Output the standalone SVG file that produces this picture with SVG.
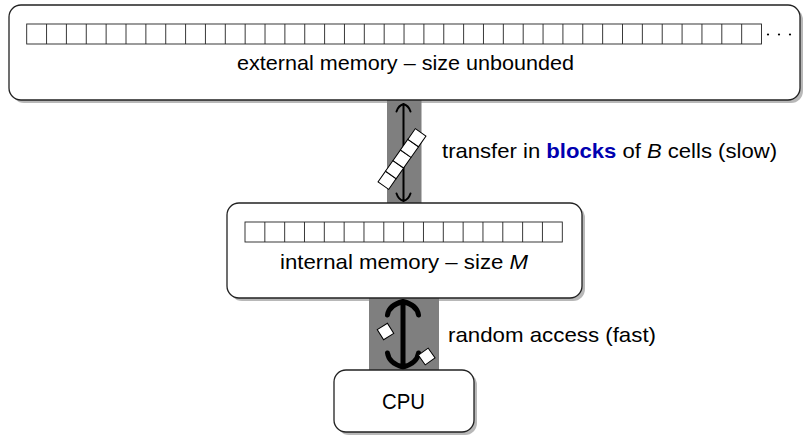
<svg xmlns="http://www.w3.org/2000/svg" width="811" height="443" viewBox="0 0 811 443">
<style>
.shadow{fill:#b8b8b8}
.box{fill:#fff;stroke:#222;stroke-width:1.3}
.cells{fill:#fff;stroke:#222;stroke-width:0.9}
.cl{fill:none;stroke:#222;stroke-width:0.9}
.band{fill:#7f7f7f}
.t{font-family:"Liberation Sans","DejaVu Sans",Arial,sans-serif;font-size:21px;fill:#000}
.arr{fill:none;stroke:#000;stroke-linecap:round;stroke-linejoin:round}
.blk{fill:#fff;stroke:#000;stroke-width:1}
</style>
<rect width="811" height="443" fill="#fff"/>
<g id="shadows">
<rect class="shadow" x="12" y="8" width="791" height="95" rx="12"/>
<rect class="shadow" x="230" y="206" width="355" height="95" rx="12"/>
<rect class="shadow" x="337" y="373" width="140" height="62" rx="12"/>
</g>
<g id="connectors">
<rect class="band" x="387" y="100" width="34.5" height="105"/>
<rect class="band" x="369" y="297" width="70" height="74"/>
<path class="arr" stroke-width="2" d="M403.5,104 V201 M396.5,111.5 Q398.5,105.5 403.5,104 Q408.5,105.5 410.5,111.5 M396.5,193.5 Q398.5,199.5 403.5,201 Q408.5,199.5 410.5,193.5"/>
<g transform="rotate(-55 402 159)">
<rect class="blk" x="369.5" y="152.5" width="13" height="13"/>
<rect class="blk" x="382.5" y="152.5" width="13" height="13"/>
<rect class="blk" x="395.5" y="152.5" width="13" height="13"/>
<rect class="blk" x="408.5" y="152.5" width="13" height="13"/>
<rect class="blk" x="421.5" y="152.5" width="13" height="13"/>
</g>
<path class="arr" stroke-width="5" d="M403,302 V366 M387.5,315 Q389,305 403,301.5 Q417,305 418.5,315 M387.5,353 Q389,363.5 403,367 Q417,363.5 418.5,353"/>
<rect class="blk" x="379.5" y="325.5" width="12" height="12" transform="rotate(-32 385.5 331.5)"/>
<rect class="blk" x="420.7" y="350.5" width="12" height="12" transform="rotate(55 426.7 356.5)"/>
<text class="t" x="442" y="158" textLength="335" lengthAdjust="spacingAndGlyphs">transfer in <tspan font-weight="bold" fill="#0000b0">blocks</tspan> of <tspan font-style="italic">B</tspan> cells (slow)</text>
<text class="t" x="448" y="342" textLength="208" lengthAdjust="spacingAndGlyphs">random access (fast)</text>
</g>
<g id="external-memory">
<rect class="box" x="9" y="5" width="791" height="95" rx="12"/>
<rect class="cells" x="26.7" y="24" width="734.8" height="20"/>
<path class="cl" d="M46.56,24V44M66.42,24V44M86.28,24V44M106.14,24V44M126,24V44M145.86,24V44M165.72,24V44M185.58,24V44M205.44,24V44M225.3,24V44M245.16,24V44M265.02,24V44M284.88,24V44M304.74,24V44M324.6,24V44M344.46,24V44M364.32,24V44M384.18,24V44M404.04,24V44M423.9,24V44M443.76,24V44M463.62,24V44M483.48,24V44M503.34,24V44M523.2,24V44M543.06,24V44M562.92,24V44M582.78,24V44M602.64,24V44M622.5,24V44M642.36,24V44M662.22,24V44M682.08,24V44M701.94,24V44M721.8,24V44M741.66,24V44"/>
<circle cx="768" cy="34.5" r="1.1" fill="#000"/>
<circle cx="779" cy="34.5" r="1.1" fill="#000"/>
<circle cx="790" cy="34.5" r="1.1" fill="#000"/>
<text class="t" x="237" y="70" textLength="337" lengthAdjust="spacingAndGlyphs">external memory – size unbounded</text>
</g>
<g id="internal-memory">
<rect class="box" x="227" y="203" width="355" height="95" rx="12"/>
<rect class="cells" x="245" y="222" width="317.3" height="20"/>
<path class="cl" d="M264.83,222V242M284.66,222V242M304.49,222V242M324.32,222V242M344.15,222V242M363.98,222V242M383.81,222V242M403.64,222V242M423.47,222V242M443.3,222V242M463.13,222V242M482.96,222V242M502.79,222V242M522.62,222V242M542.45,222V242"/>
<text class="t" x="280" y="269" textLength="248" lengthAdjust="spacingAndGlyphs">internal memory – size <tspan font-style="italic">M</tspan></text>
</g>
<g id="cpu">
<rect class="box" x="334" y="370" width="140" height="62" rx="12"/>
<text class="t" x="382" y="409" textLength="43" lengthAdjust="spacingAndGlyphs" style="font-size:22px">CPU</text>
</g>
</svg>
